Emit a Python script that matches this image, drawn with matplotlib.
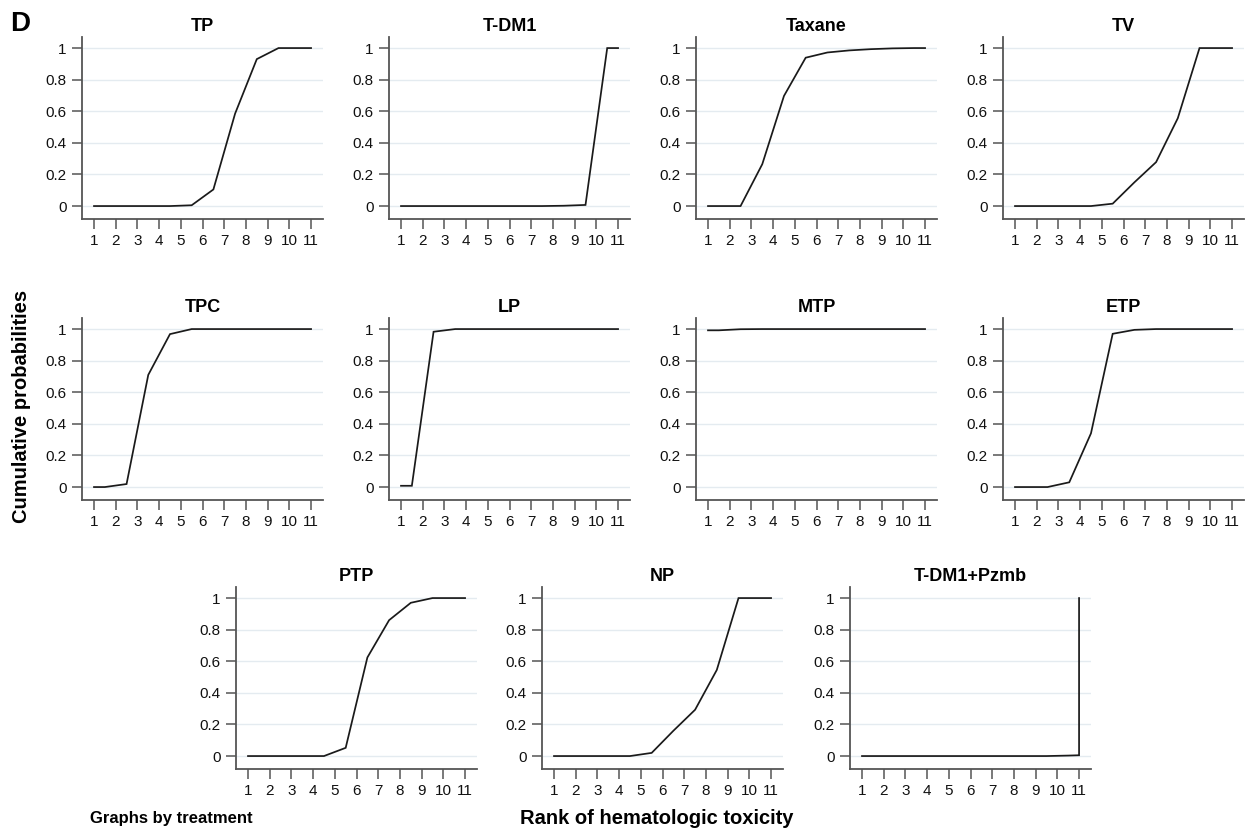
import matplotlib
matplotlib.use('Agg')
import matplotlib.pyplot as plt

plt.rcParams['font.family'] = ['Liberation Sans', 'DejaVu Sans']

# rank positions used for the cumulative curves
rank_x = [1, 1.5, 2.5, 3.5, 4.5, 5.5, 6.5, 7.5, 8.5, 9.5, 10.5, 11]
rank_x_pzmb = [1, 1.5, 2.5, 3.5, 4.5, 5.5, 6.5, 7.5, 8.5, 9.5, 10.5, 11, 11]
rank_ticks = list(range(1, 12))
prob_ticks = [0, 0.2, 0.4, 0.6, 0.8, 1]

treatments = ['TP', 'T-DM1', 'Taxane', 'TV',
              'TPC', 'LP', 'MTP', 'ETP',
              'PTP', 'NP', 'T-DM1+Pzmb']

tp = [0, 0, 0, 0, 0, 0.005, 0.105, 0.585, 0.93, 1.0, 1.0, 1.0]
tdm1 = [0, 0, 0, 0, 0, 0, 0, 0, 0.002, 0.007, 1.0, 1.0]
taxane = [0, 0, 0, 0.265, 0.697, 0.939, 0.972, 0.985, 0.993, 0.998, 1.0, 1.0]
tv = [0, 0, 0, 0, 0, 0.015, 0.15, 0.278, 0.556, 1.0, 1.0, 1.0]
tpc = [0, 0, 0.019, 0.71, 0.968, 1.0, 1.0, 1.0, 1.0, 1.0, 1.0, 1.0]
lp = [0.008, 0.008, 0.983, 1.0, 1.0, 1.0, 1.0, 1.0, 1.0, 1.0, 1.0, 1.0]
mtp = [0.992, 0.992, 0.999, 1.0, 1.0, 1.0, 1.0, 1.0, 1.0, 1.0, 1.0, 1.0]
etp = [0, 0, 0, 0.03, 0.34, 0.97, 0.995, 1.0, 1.0, 1.0, 1.0, 1.0]
ptp = [0, 0, 0, 0, 0, 0.052, 0.624, 0.86, 0.97, 1.0, 1.0, 1.0]
np_ = [0, 0, 0, 0, 0, 0.02, 0.16, 0.293, 0.545, 1.0, 1.0, 1.0]
tdm1_pzmb = [0, 0, 0, 0, 0, 0, 0, 0, 0, 0, 0.003, 0.005, 1.0]

series = [tp, tdm1, taxane, tv, tpc, lp, mtp, etp, ptp, np_, tdm1_pzmb]
xs = [rank_x] * 10 + [rank_x_pzmb]

W, H = 1249, 834
fig = plt.figure(figsize=(W / 100, H / 100), dpi=100)

# panel boxes in pixels: left, top (all panels same size)
lefts_top = [82, 389, 696, 1003]
lefts_bottom = [236, 542, 850]
row_tops = [37, 318, 587]
pw, ph = 241, 182
boxes = []
for r in range(2):
    for l in lefts_top:
        boxes.append((l, row_tops[r]))
for l in lefts_bottom:
    boxes.append((l, row_tops[2]))

spine_col = '#555555'
grid_col = '#e4ebf0'

for name, x, y, (l, t) in zip(treatments, xs, series, boxes):
    ax = fig.add_axes([l / W, 1 - (t + ph) / H, pw / W, ph / H])
    ax.plot(x, y, color='#1a1a1a', lw=1.25, solid_joinstyle='miter')
    ax.set_xlim(0.447, 11.55)
    ax.set_ylim(-0.082, 1.07)
    ax.set_xticks(rank_ticks)
    ax.set_yticks(prob_ticks)
    ax.set_yticklabels(['0', '0.2', '0.4', '0.6', '0.8', '1'])
    ax.grid(axis='y', color=grid_col, lw=1.0)
    ax.set_axisbelow(True)
    for s in ['top', 'right']:
        ax.spines[s].set_visible(False)
    for s in ['left', 'bottom']:
        ax.spines[s].set_color(spine_col)
        ax.spines[s].set_linewidth(1.3)
    ax.tick_params(direction='out', length=7, width=1.1, color=spine_col,
                   labelsize=11, pad=4, labelcolor='#111111')
    ax.set_title(name, fontsize=13, fontweight='bold', pad=4)

fig.text(10 / W, 1 - 24 / H, 'D', fontsize=20, fontweight='bold',
         ha='left', va='center')
fig.text(22 / W, 1 - 406 / H, 'Cumulative probabilities', rotation=90,
         fontsize=14.5, fontweight='bold', ha='center', va='center')
fig.text(90 / W, 1 - 818 / H, 'Graphs by treatment', fontsize=12,
         fontweight='bold', ha='left', va='center')
fig.text(520 / W, 1 - 818 / H, 'Rank of hematologic toxicity', fontsize=14.5,
         fontweight='bold', ha='left', va='center')

fig.savefig('out.png', dpi=100)
